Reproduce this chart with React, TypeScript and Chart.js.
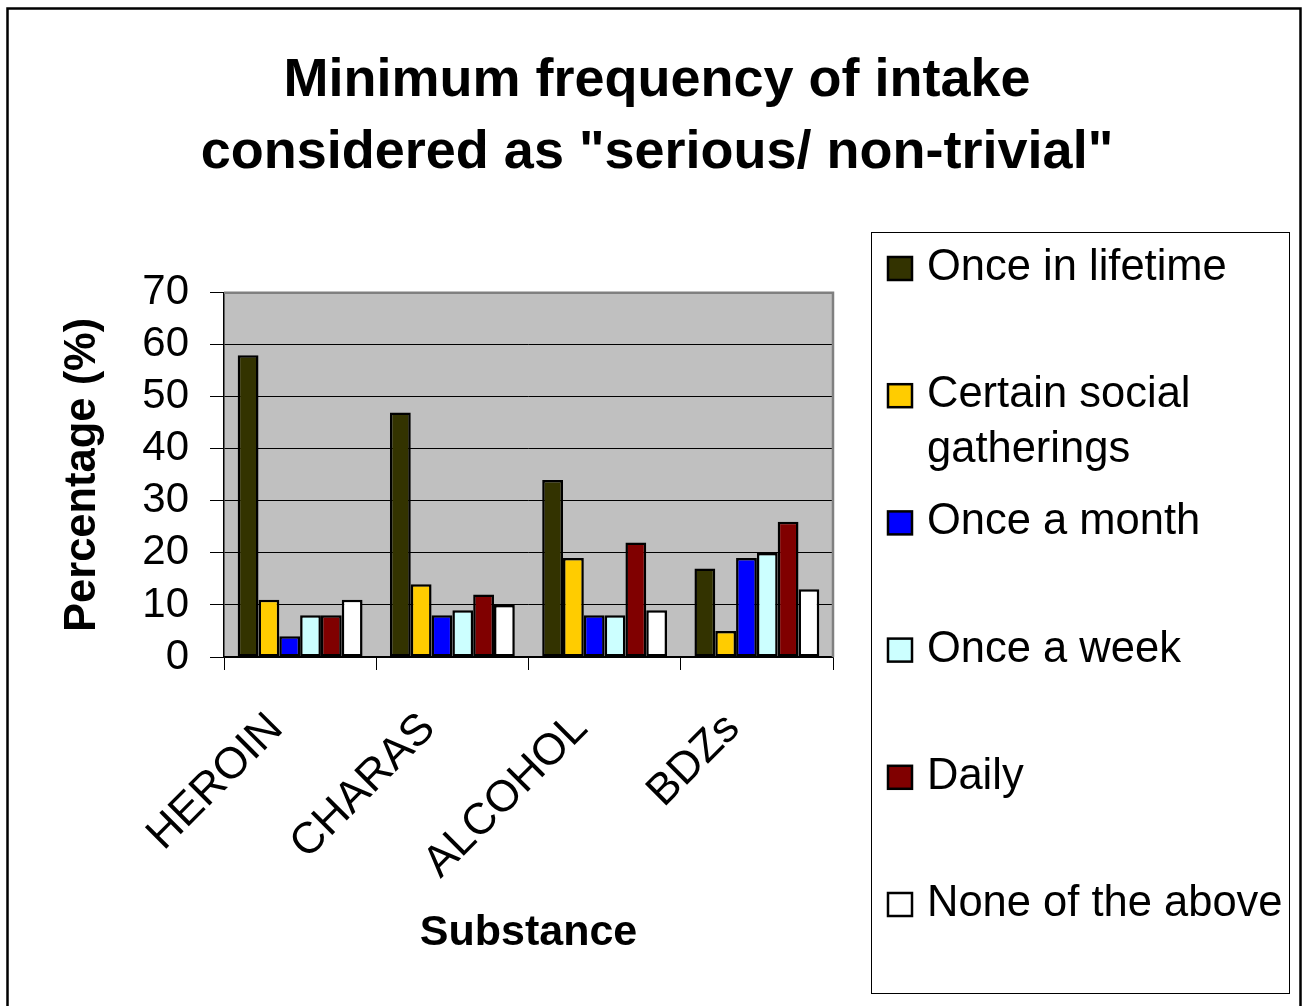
import React, { useEffect, useRef } from 'react';
import { Chart, registerables } from 'chart.js';

Chart.register(...registerables);

// ---- data ----
const categories = ['HEROIN', 'CHARAS', 'ALCOHOL', 'BDZs'];
const seriesNames = [
  'Once in lifetime',
  'Certain social gatherings',
  'Once a month',
  'Once a week',
  'Daily',
  'None of the above',
];
const onceInLifetime = [58, 47, 34, 17];
const certainSocialGatherings = [11, 14, 19, 5];
const onceAMonth = [4, 8, 8, 19];
const onceAWeek = [8, 9, 8, 20];
const daily = [8, 12, 22, 26];
const noneOfTheAbove = [11, 10, 9, 13];
const seriesColors = ['#333300', '#FFCC00', '#0000FF', '#CCFFFF', '#800000', '#FFFFFF'];
const titleLines = ['Minimum frequency of intake', 'considered as "serious/ non-trivial"'];
const yAxisTitle = 'Percentage (%)';
const xAxisTitle = 'Substance';
const yMin = 0;
const yMax = 70;
const yStep = 10;

const FONT = '"Liberation Sans", Arial, Helvetica, sans-serif';

export default function App() {
  const ref = useRef<HTMLCanvasElement>(null);

  useEffect(() => {
    const canvas = ref.current;
    if (!canvas) return;
    const values = [onceInLifetime, certainSocialGatherings, onceAMonth, onceAWeek, daily, noneOfTheAbove];

    const decor = {
      id: 'decor',
      beforeDraw(chart: any) {
        const { ctx, chartArea: a } = chart;
        ctx.save();
        ctx.fillStyle = '#C0C0C0';
        ctx.fillRect(a.left, a.top, a.right - a.left, a.bottom - a.top);
        ctx.restore();
      },
      afterDraw(chart: any) {
        const { ctx, chartArea: a } = chart;
        ctx.save();
        // plot area top/right border
        ctx.strokeStyle = '#808080';
        ctx.lineWidth = 2.5;
        ctx.beginPath();
        ctx.moveTo(a.left, a.top);
        ctx.lineTo(a.right, a.top);
        ctx.lineTo(a.right, a.bottom);
        ctx.stroke();
        // outer frame
        ctx.strokeStyle = '#000';
        ctx.lineWidth = 2.5;
        ctx.strokeRect(7.5, 8.5, 1293, 1020);
        // legend box
        const lx = 871.5, ly = 232.5, lw = 418, lh = 761;
        ctx.lineWidth = 1;
        ctx.strokeStyle = '#000';
        ctx.strokeRect(lx, ly, lw, lh);
        ctx.font = `43.5px ${FONT}`;
        ctx.textBaseline = 'middle';
        ctx.textAlign = 'left';
        ctx.fillStyle = '#000';
        const maxW = 1289 - 927;
        chart.data.datasets.forEach((ds: any, i: number) => {
          const cy = 268 + i * 127.2;
          ctx.fillStyle = ds.backgroundColor;
          ctx.fillRect(888, cy - 11, 24, 23);
          ctx.strokeStyle = '#000';
          ctx.lineWidth = 2.5;
          ctx.strokeRect(888, cy - 11, 24, 23);
          // wrap
          const words = String(ds.label).split(' ');
          const lines: string[] = [];
          let cur = '';
          words.forEach((w) => {
            const t = cur ? cur + ' ' + w : w;
            if (ctx.measureText(t).width > maxW && cur) {
              lines.push(cur);
              cur = w;
            } else cur = t;
          });
          if (cur) lines.push(cur);
          ctx.fillStyle = '#000';
          lines.forEach((ln, j) => ctx.fillText(ln, 927, cy + j * 55));
        });
        ctx.restore();
      },
    };

    const chart = new Chart(canvas, {
      type: 'bar',
      data: {
        labels: categories,
        datasets: seriesNames.map((name, i) => ({
          label: name,
          data: values[i],
          backgroundColor: seriesColors[i],
          borderColor: '#000',
          borderWidth: 2.5,
          borderSkipped: false,
          categoryPercentage: 0.82,
          barPercentage: 1,
          yAxisID: 'y',
        })),
      },
      options: {
        responsive: false,
        animation: false,
        devicePixelRatio: 1,
        layout: { padding: { left: 20, right: 8, top: 8, bottom: 40 } },
        plugins: {
          legend: { display: false },
          tooltip: { enabled: false },
          title: {
            display: true,
            text: titleLines,
            color: '#000',
            font: { family: FONT, size: 54, weight: 'bold', lineHeight: 1.34 },
            padding: { top: 37, bottom: 103 },
          },
        },
        scales: {
          x: {
            position: 'bottom',
            grid: {
              display: true,
              drawOnChartArea: false,
              drawTicks: true,
              tickLength: 13,
              offset: true,
              color: '#000',
              lineWidth: 1,
            },
            border: { display: true, color: '#000', width: 1.5 },
            ticks: {
              color: '#000',
              font: { family: FONT, size: 44 },
              minRotation: 45,
              maxRotation: 45,
              padding: 33,
              labelOffset: -24,
              autoSkip: false,
            },
            title: {
              display: true,
              text: xAxisTitle,
              color: '#000',
              font: { family: FONT, size: 43, weight: 'bold', lineHeight: 1.2 },
              padding: { top: 0, bottom: 7 },
            },
            afterFit(s: any) {
              s.height = 309;
            },
          },
          y: {
            position: 'left',
            min: yMin,
            max: yMax,
            ticks: {
              stepSize: yStep,
              color: '#000',
              font: { family: FONT, size: 42 },
              padding: 21,
              autoSkip: false,
            },
            grid: {
              color: '#000',
              lineWidth: 1,
              drawTicks: true,
              tickLength: 14,
            },
            border: { display: true, color: '#000', width: 1.5 },
            title: {
              display: true,
              text: yAxisTitle,
              color: '#000',
              font: { family: FONT, size: 43.5, weight: 'bold', lineHeight: 1.2 },
              padding: { top: 37, bottom: 0 },
            },
            afterFit(s: any) {
              s.width = 204;
            },
          },
          legendSpace: {
            type: 'linear',
            position: 'right',
            display: true,
            grid: { display: false, drawTicks: false },
            border: { display: false },
            ticks: { display: false },
            afterFit(s: any) {
              s.width = 461;
            },
          },
        },
      } as any,
      plugins: [decor],
    });
    return () => chart.destroy();
  }, []);

  return (
    <div style={{ position: 'absolute', left: 0, top: 0, width: 1302, height: 1006, background: '#fff' }}>
      <canvas ref={ref} width={1302} height={1006} style={{ display: 'block', width: 1302, height: 1006 }} />
    </div>
  );
}
